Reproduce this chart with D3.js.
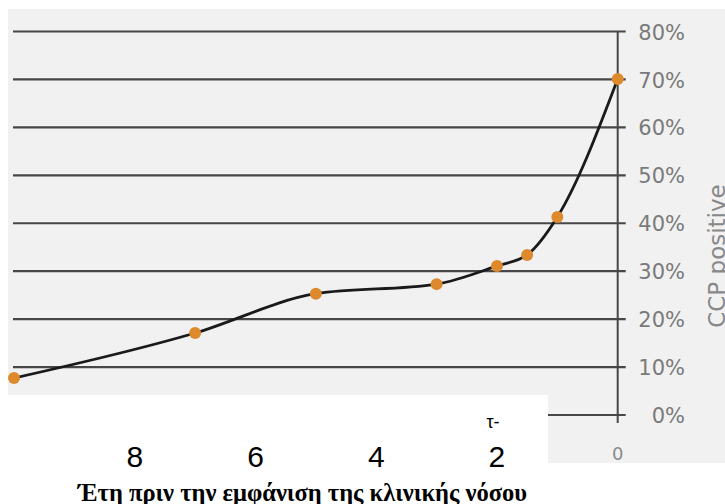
<!DOCTYPE html>
<html>
<head>
<meta charset="utf-8">
<script src="https://cdn.jsdelivr.net/npm/d3@7"></script>
<style>
  html, body { margin: 0; padding: 0; background: #ffffff; }
  svg { display: block; }
</style>
</head>
<body>
<svg id="chart" width="725" height="504"></svg>
<script>
// ---- data ----
const years = [10, 7, 5, 3, 2, 1.5, 1, 0];
const ccpPositive = [7.7, 17.1, 25.3, 27.3, 31.1, 33.4, 41.3, 70.1];
const yTicks = [0, 10, 20, 30, 40, 50, 60, 70, 80];
const xTickLabels = [8, 6, 4, 2];
const yAxisTitle = "CCP positive";
const xAxisTitle = "Έτη πριν την εμφάνιση της κλινικής νόσου";

const svg = d3.select("#chart");

const x = d3.scaleLinear().domain([10, 0]).range([14, 617.7]);
const y = d3.scaleLinear().domain([0, 80]).range([415, 31.5]);

// gray panel
svg.append("rect").attr("x", 8).attr("y", 9).attr("width", 717).attr("height", 454)
  .attr("fill", "#f1f1f1");

// grid lines
svg.append("g").selectAll("line").data(yTicks).join("line")
  .attr("x1", 13).attr("x2", x(0) + 8)
  .attr("y1", d => y(d)).attr("y2", d => y(d))
  .attr("stroke", "#474747").attr("stroke-width", 2.2);

// vertical axis line
svg.append("line")
  .attr("x1", x(0)).attr("x2", x(0))
  .attr("y1", y(80)).attr("y2", y(0) + 8)
  .attr("stroke", "#474747").attr("stroke-width", 2);

// data line
const pts = years.map((yr, i) => ({yr, v: ccpPositive[i]}));
const line = d3.line().x(d => x(d.yr)).y(d => y(d.v)).curve(d3.curveMonotoneX);
svg.append("path").datum(pts).attr("d", line)
  .attr("fill", "none").attr("stroke", "#1a1a1a").attr("stroke-width", 2.8);

// points
svg.append("g").selectAll("circle").data(pts).join("circle")
  .attr("cx", d => x(d.yr)).attr("cy", d => y(d.v)).attr("r", 6)
  .attr("fill", "#de8a2c");

// white overlay box at bottom-left
svg.append("rect").attr("x", 0).attr("y", 395).attr("width", 548).attr("height", 109)
  .attr("fill", "#ffffff");

// right axis tick labels
const yAxis = d3.axisRight(y).tickValues(yTicks).tickSize(0).tickFormat(d => d + "%");
const gy = svg.append("g").attr("transform", `translate(${685},0)`).call(yAxis);
gy.select(".domain").remove();
gy.selectAll("text")
  .attr("x", 0).attr("text-anchor", "end").attr("dy", "0.36em")
  .attr("font-family", "DejaVu Sans").attr("font-size", 21).attr("fill", "#7a7a7a");

// x "0" label (gray, original)
svg.append("text").attr("x", x(0)).attr("y", 460).attr("text-anchor", "middle")
  .attr("font-family", "DejaVu Sans").attr("font-size", 18).attr("fill", "#8a8a8a")
  .text("0");

// y axis title
svg.append("text")
  .attr("transform", `translate(725,${256}) rotate(-90)`)
  .attr("text-anchor", "middle")
  .attr("font-family", "DejaVu Sans").attr("font-size", 23).attr("fill", "#888888")
  .text(yAxisTitle);

// overlay x labels (black)
svg.append("g").selectAll("text").data(xTickLabels).join("text")
  .attr("x", d => x(d)).attr("y", 467).attr("text-anchor", "middle")
  .attr("font-family", "Liberation Sans, Arial, sans-serif").attr("font-size", 30)
  .attr("fill", "#000").text(d => d);

svg.append("text").attr("x", x(2) - 4).attr("y", 428).attr("text-anchor", "middle")
  .attr("font-family", "Liberation Sans, Arial, sans-serif").attr("font-size", 18)
  .attr("fill", "#000").text("τ-");

// x axis title
svg.append("text").attr("x", 78).attr("y", 501).attr("text-anchor", "start")
  .attr("textLength", 449).attr("lengthAdjust", "spacingAndGlyphs")
  .attr("font-family", "Liberation Serif, Times New Roman, serif").attr("font-weight", "bold")
  .attr("font-size", 25).attr("fill", "#000").text(xAxisTitle);
</script>
</body>
</html>
